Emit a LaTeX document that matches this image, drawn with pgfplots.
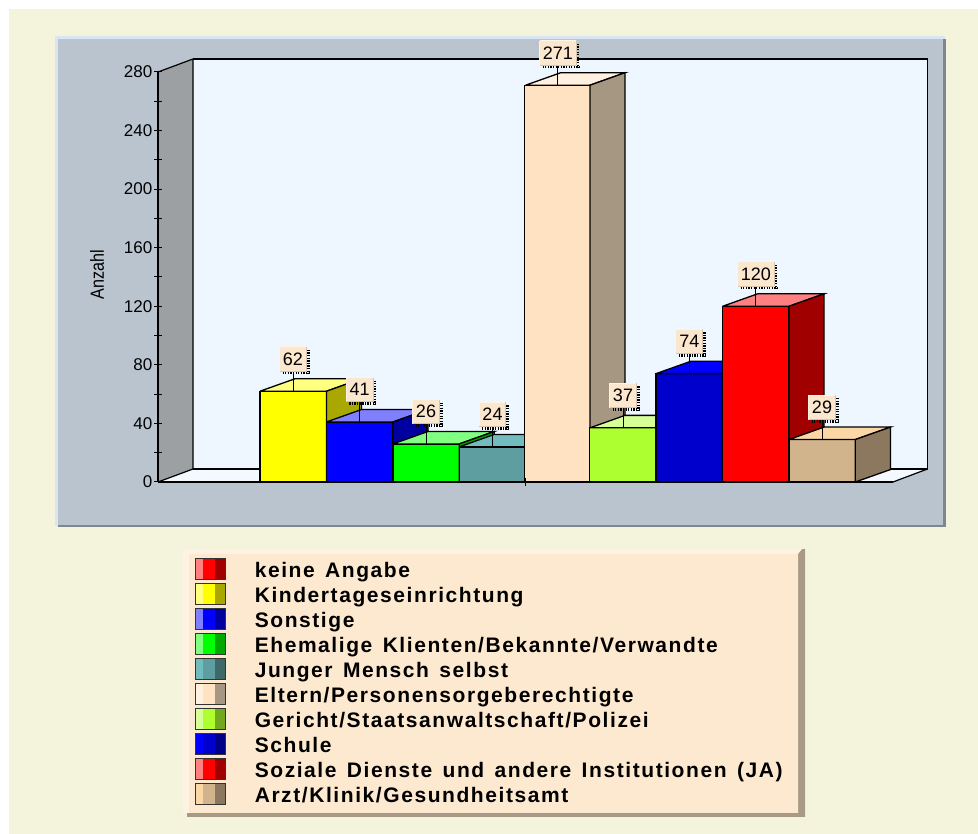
\documentclass[border=0pt]{standalone}
\usepackage{fontspec}
\setmainfont{Liberation Sans}
\newfontfamily\legendfont[LetterSpace=7.5,WordSpace=1.4]{Liberation Sans}
\usepackage{pgfplots}
\pgfplotsset{compat=1.18}

\definecolor{pagebg}{HTML}{F4F4DC}
\definecolor{panel}{HTML}{BAC4CE}
\definecolor{panellight}{HTML}{D9E5F2}
\definecolor{paneledge}{HTML}{7F868E}
\definecolor{wall}{HTML}{EEF6FF}
\definecolor{floorcol}{HTML}{F4F8FF}
\definecolor{leftwall}{HTML}{9CA0A3}
\definecolor{legbg}{HTML}{FDE9CF}
\definecolor{leglight}{HTML}{FFF2E2}
\definecolor{legshadow}{HTML}{A89A85}
\definecolor{tagbg}{HTML}{FBE6CE}
\definecolor{taglight}{HTML}{FFF3E6}
\definecolor{tagdark}{HTML}{D8C4AC}

% front / top / side shades of each category
\definecolor{redF}{HTML}{FF0000}\definecolor{redT}{HTML}{FF8080}\definecolor{redS}{HTML}{A00000}
\definecolor{yelF}{HTML}{FFFF00}\definecolor{yelT}{HTML}{FFFF80}\definecolor{yelS}{HTML}{A8A800}
\definecolor{bluF}{HTML}{0000FF}\definecolor{bluT}{HTML}{8080FF}\definecolor{bluS}{HTML}{0000A0}
\definecolor{greF}{HTML}{00FF00}\definecolor{greT}{HTML}{80FF80}\definecolor{greS}{HTML}{00A800}
\definecolor{teaF}{HTML}{5F9EA0}\definecolor{teaT}{HTML}{72BCBF}\definecolor{teaS}{HTML}{3F6869}
\definecolor{peaF}{HTML}{FFE2C2}\definecolor{peaT}{HTML}{FFF0E0}\definecolor{peaS}{HTML}{A69782}
\definecolor{lawF}{HTML}{ADFF2F}\definecolor{lawT}{HTML}{D6FF98}\definecolor{lawS}{HTML}{72A81F}
\definecolor{schF}{HTML}{0000CD}\definecolor{schT}{HTML}{0000FF}\definecolor{schS}{HTML}{000087}
\definecolor{tanF}{HTML}{D2B48C}\definecolor{tanT}{HTML}{FCD7A6}\definecolor{tanS}{HTML}{8B785E}

% one solid column: #1 left edge, #2 right edge, #3 value, #4 value plus depth,
% #5 and #6 right edge and left edge moved back by the depth, #7 colour stem
\newcommand{\column}[7]{%
  \addplot[ybar, bar width=66.5pt, bar shift=0pt, fill=#7F, draw=black, line width=1.3pt, forget plot]
    coordinates {({(#1+#2)/2},#3)};
  \addplot[fill=#7T, draw=black, line width=1.3pt, forget plot]
    coordinates {(#1,#3) (#6,#4) (#5,#4) (#2,#3) (#1,#3)};
  \addplot[fill=#7S, draw=black, line width=1.3pt, forget plot]
    coordinates {(#2,0) (#5,8.5) (#5,#4) (#2,#3) (#2,0)};
}
% three-shade swatch in the key
\newcommand{\swatch}[1]{%
  \addlegendimage{legend image code/.code={
    \fill[#1T] (0pt,-10.5pt) rectangle (8pt,10.5pt);
    \fill[#1F] (8pt,-10.5pt) rectangle (20pt,10.5pt);
    \fill[#1S] (20pt,-10.5pt) rectangle (30pt,10.5pt);
    \draw[black!80, line width=0.8pt] (0pt,-10.5pt) rectangle (30pt,10.5pt);
  }}%
}
\newcommand{\keytext}[1]{\addlegendentry{\hspace{29pt}\raisebox{-4.5pt}{#1}}}

\begin{document}
\begin{tikzpicture}
\useasboundingbox (0,0) rectangle (978pt,834pt);
\begin{scope}[x=1pt,y=-1pt,yshift=834pt]
  % page and chart panel
  \fill[white] (0,0) rectangle (978,834);
  \fill[pagebg] (9,9.5) rectangle (978,834);
  \fill[panellight] (55,36) rectangle (945,526);
  \fill[paneledge] (58,39) rectangle (946,527);
  \fill[panel] (58,39) rectangle (943,525);
  % walls and floor of the plot box
  \fill[wall] (193,59) rectangle (927.5,469);
  \fill[floorcol] (158,482) -- (193,469) -- (927.5,469) -- (893,482) -- cycle;
  \fill[leftwall] (158,72) -- (193,59) -- (193,469) -- (158,482) -- cycle;
  \draw[black, line width=1.2pt] (158,72) -- (193,59) -- (193,469) -- (158,482);
  \draw[black, line width=1.2pt] (193,59) -- (927.5,59) -- (927.5,469) -- (193,469);
  \draw[black, line width=1.2pt] (927.5,469) -- (893,482);
  % panel behind the key
  \fill[legshadow] (187,553) -- (805,549) -- (805,817) -- (187,817) -- cycle;
  \fill[leglight] (183,549) -- (802,549) -- (798,554) -- (798,813) -- (183,813) -- cycle;
  \fill[legbg] (189,554) rectangle (798,813);
\end{scope}

\begin{axis}[
  at={(158pt,352pt)}, anchor=origin,
  scale only axis, width=735pt, height=410pt,
  xmin=158, xmax=893, ymin=0, ymax=280,
  clip=false, axis on top,
  axis x line=bottom, axis y line=left,
  axis line style={-, line width=1.8pt, black},
  xtick={525.7}, xticklabels={},
  ytick={0,40,...,280}, minor y tick num=1,
  tick style={black, line width=1pt},
  major tick length=7.5pt, minor tick length=7.5pt,
  ytick align=center, xtick align=center,
  tick label style={font=\fontsize{17}{19}\selectfont, text=black},
  yticklabel style={xshift=1.5pt},
  /pgf/number format/assume math mode=true,
  ylabel={Anzahl},
  ylabel style={font=\fontsize{19}{21}\selectfont, text=black, at={(axis description cs:-0.083,0.505)}, anchor=center, rotate=0, xscale=0.85},
  legend cell align=left,
  legend style={
    at={(axis description cs:0.0503,-0.185)}, anchor=north west,
    draw=none, fill=none, inner sep=0pt, outer sep=0pt,
    row sep=3.2pt, font=\legendfont\bfseries\fontsize{21}{23}\selectfont,
    nodes={inner sep=0pt, outer sep=0pt, anchor=west}, column sep=0pt,
  },
]
\swatch{red}\keytext{keine Angabe}
\swatch{yel}\keytext{Kindertageseinrichtung}
\swatch{blu}\keytext{Sonstige}
\swatch{gre}\keytext{Ehemalige Klienten/Bekannte/Verwandte}
\swatch{tea}\keytext{Junger Mensch selbst}
\swatch{pea}\keytext{Eltern/Personensorgeberechtigte}
\swatch{law}\keytext{Gericht/Staatsanwaltschaft/Polizei}
\swatch{sch}\keytext{Schule}
\swatch{red}\keytext{Soziale Dienste und andere Institutionen (JA)}
\swatch{tan}\keytext{Arzt/Klinik/Gesundheitsamt}

% columns, left to right so that each hides the side of the one before
\column{260}{326.5}{62}{70.5}{361.5}{295}{yel}
\column{326.5}{393}{41}{49.5}{428}{361.5}{blu}
\column{393}{459.3}{26}{34.5}{494.3}{428}{gre}
\column{459.3}{525.7}{24}{32.5}{560.7}{494.3}{tea}
\column{525.7}{590}{271}{279.5}{625}{560.7}{pea}
\column{590}{656}{37}{45.5}{691}{625}{law}
\column{656}{722.6}{74}{82.5}{757.6}{691}{sch}
\column{722.6}{789}{120}{128.5}{824}{757.6}{red}
\column{789}{855.3}{29}{37.5}{890.5}{824}{tan}

% value tags on their stems
\addplot[draw=none, mark=none, forget plot,
  nodes near coords,
  point meta=y,
  every node near coord/.style={
    anchor=south, yshift=20pt, fill=tagbg, text=black,
    font=\fontsize{18}{20}\selectfont,
    inner xsep=3pt, inner ysep=0pt, minimum height=24pt, minimum width=26.5pt,
    /pgf/number format/.cd, fixed, precision=0, assume math mode=true, /tikz/.cd,
    append after command={
      (\tikzlastnode.south) edge[draw=black, line width=1pt] ([yshift=-20pt]\tikzlastnode.south)
      ([xshift=1.8pt,yshift=-3pt]\tikzlastnode.north east) edge[draw=black, line width=2.6pt, dash pattern=on 1.3pt off 1.3pt] ([xshift=1.8pt,yshift=-3pt]\tikzlastnode.south east)
      ([xshift=3pt,yshift=-1.8pt]\tikzlastnode.south west) edge[draw=black, line width=2.6pt, dash pattern=on 1.3pt off 1.3pt] ([xshift=3pt,yshift=-1.8pt]\tikzlastnode.south east)
      (\tikzlastnode.south west) edge[draw=taglight, line width=1pt] (\tikzlastnode.north west)
      (\tikzlastnode.north west) edge[draw=taglight, line width=1pt] (\tikzlastnode.north east)
      (\tikzlastnode.north east) edge[draw=tagdark, line width=1pt] (\tikzlastnode.south east)
      (\tikzlastnode.south east) edge[draw=tagdark, line width=1pt] (\tikzlastnode.south west)
    },
  },
] coordinates {
  (293,62) (359.7,41) (426,26) (492.5,24) (557.8,271)
  (623,37) (689.3,74) (755.8,120) (822,29)
};
\end{axis}
\end{tikzpicture}
\end{document}
